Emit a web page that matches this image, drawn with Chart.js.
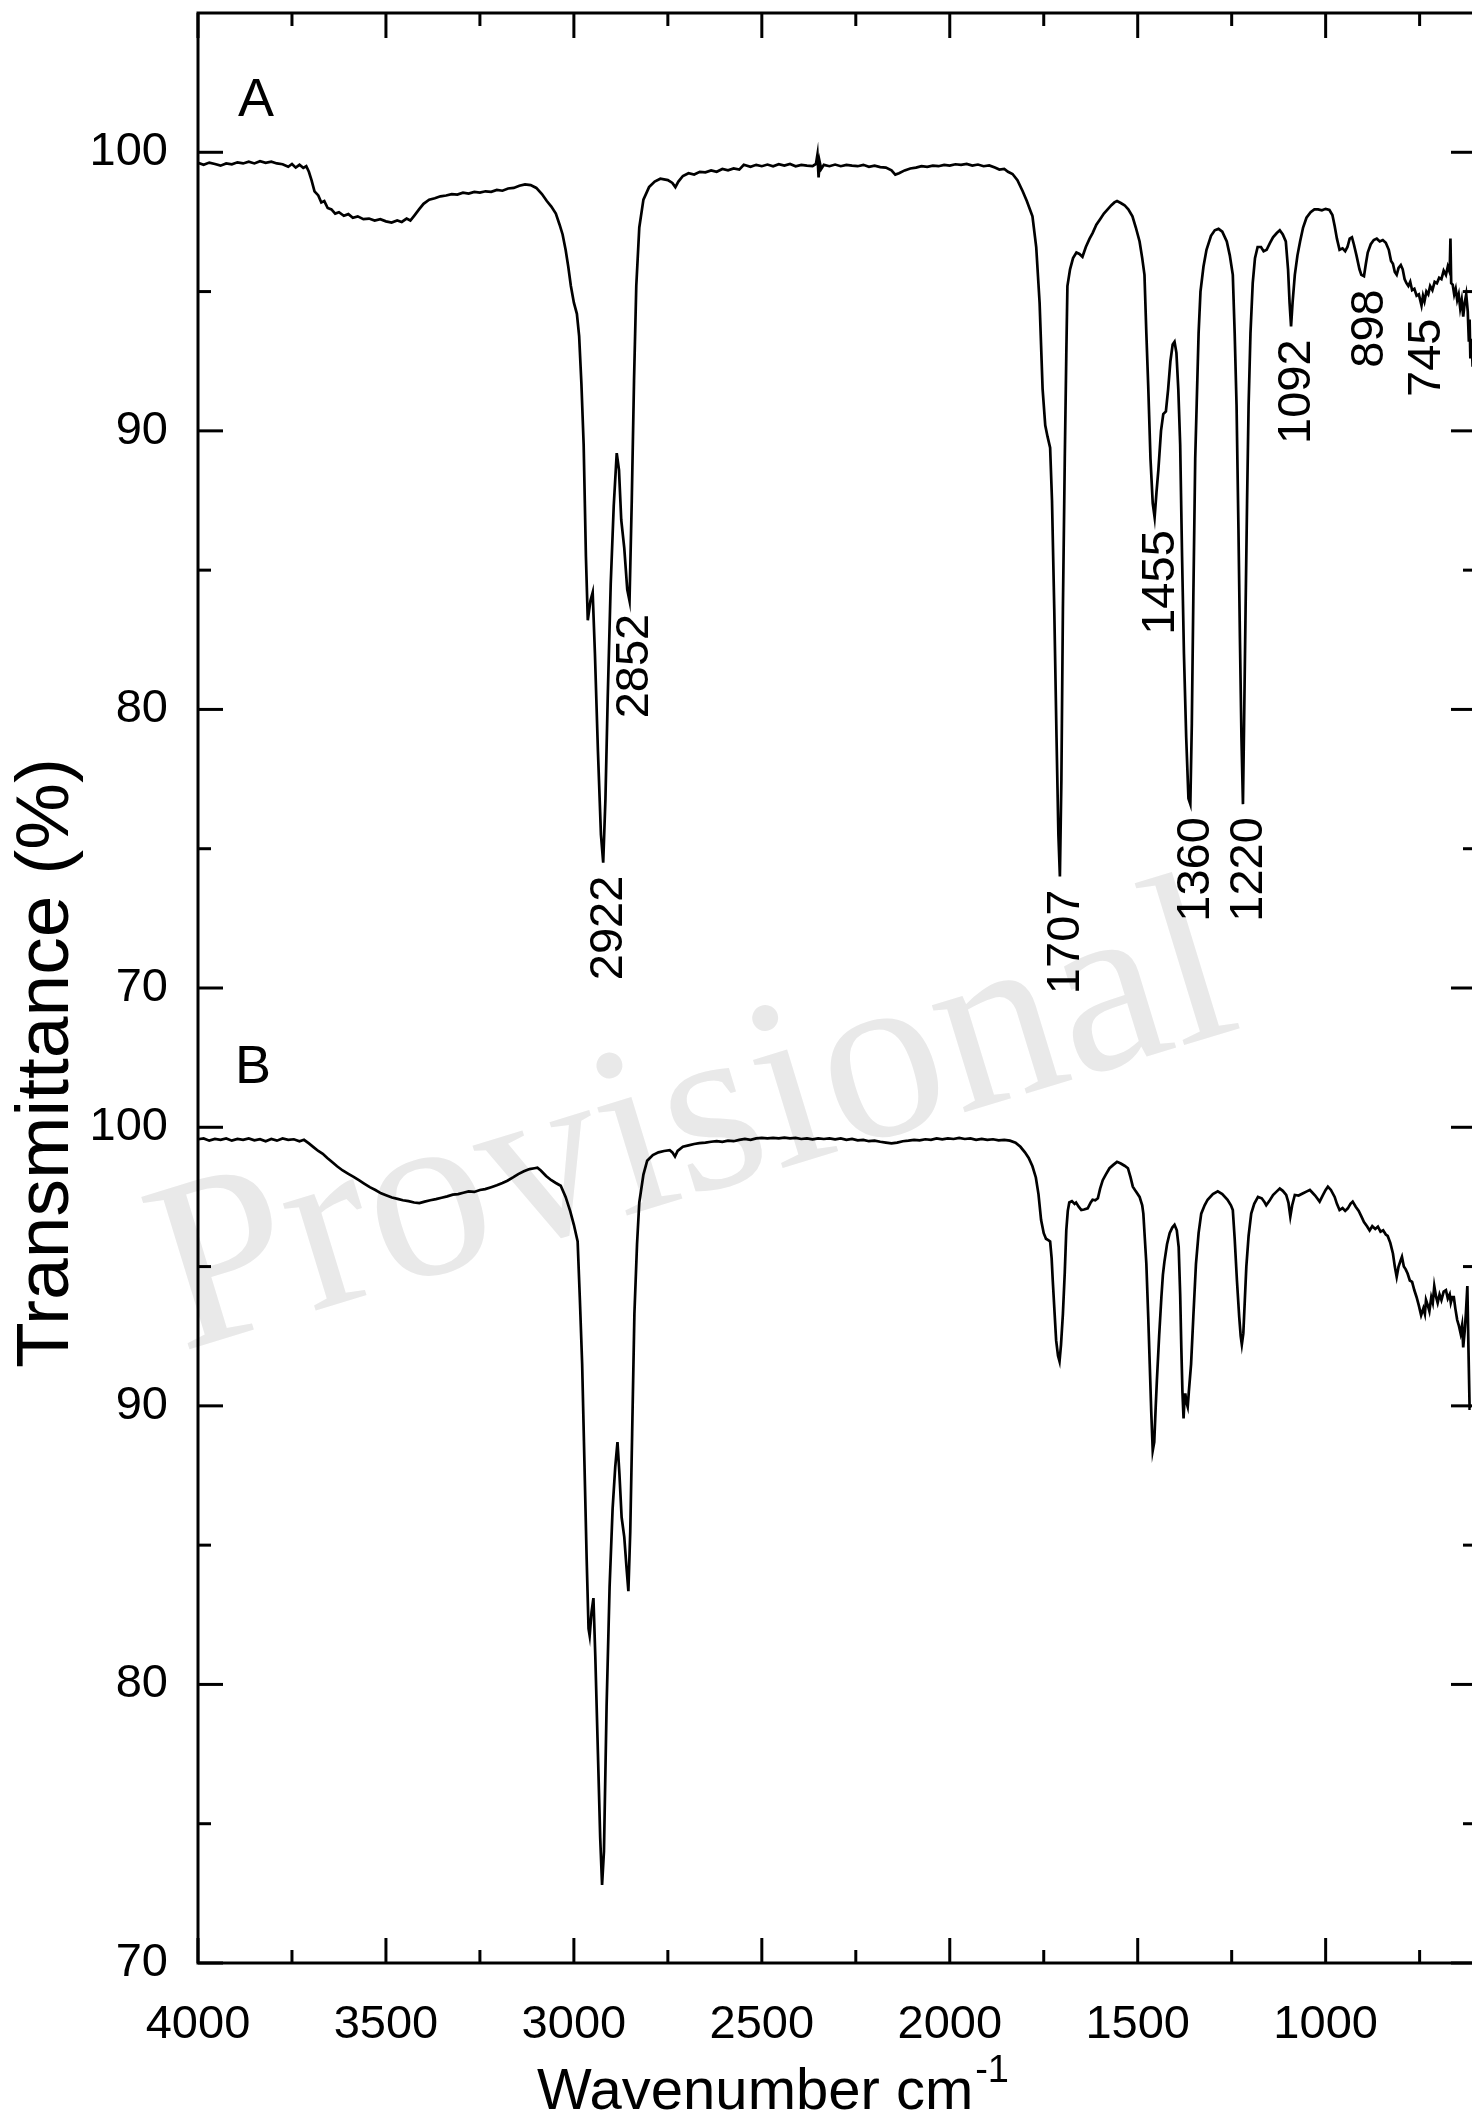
<!DOCTYPE html>
<html>
<head>
<meta charset="utf-8">
<script src="https://cdn.jsdelivr.net/npm/chart.js@4.4.1/dist/chart.umd.min.js"></script>
<style>
  html, body { margin: 0; padding: 0; background: #fff; }
  #wrap { width: 1472px; height: 2119px; overflow: hidden; position: relative; }
  canvas { display: block; }
</style>
</head>
<body>
<div id="wrap"><canvas id="c" width="1480" height="2119"></canvas></div>
<script>
// spectrum A (upper trace)
const wavenumberA = [4000,3985,3970,3955,3940,3925,3910,3895,3880,3865,3850,3835,3820,3805,3790,3775,3760,3750,3740,3730,3720,3712,3705,3698,3690,3680,3672,3664,3655,3645,3635,3625,3612,3600,3588,3575,3560,3545,3530,3515,3500,3485,3470,3458,3445,3435,3425,3412,3400,3385,3370,3355,3340,3325,3310,3295,3280,3265,3250,3235,3220,3205,3190,3175,3160,3145,3130,3115,3100,3085,3072,3060,3048,3038,3030,3022,3015,3008,3000,2992,2986,2980,2974,2968,2963,2956,2950,2944,2936,2928,2922,2916,2910,2902,2894,2886,2880,2874,2866,2858,2852,2846,2840,2834,2826,2815,2800,2785,2770,2750,2738,2730,2722,2710,2695,2680,2665,2650,2635,2620,2605,2590,2575,2560,2548,2530,2515,2500,2485,2470,2455,2440,2425,2410,2395,2380,2365,2356,2352,2349,2346,2342,2335,2320,2305,2290,2275,2260,2245,2230,2215,2200,2185,2170,2155,2145,2135,2120,2105,2090,2075,2060,2045,2030,2015,2000,1985,1970,1955,1940,1925,1910,1895,1880,1868,1855,1845,1833,1820,1806,1795,1780,1770,1761,1753,1746,1740,1733,1728,1722,1716,1711,1707,1703,1699,1694,1690,1687,1680,1672,1663,1655,1647,1638,1628,1620,1610,1600,1590,1580,1570,1562,1555,1545,1535,1525,1514,1505,1495,1488,1482,1477,1472,1466,1460,1455,1450,1445,1438,1432,1425,1419,1413,1407,1402,1397,1392,1387,1382,1377,1371,1365,1360,1356,1352,1347,1343,1338,1333,1325,1317,1305,1295,1285,1275,1263,1255,1247,1242,1237,1232,1228,1224,1220,1217,1213,1209,1205,1200,1194,1188,1181,1172,1165,1157,1148,1140,1130,1122,1114,1106,1100,1096,1092,1088,1082,1075,1068,1060,1051,1040,1030,1020,1010,1000,990,982,976,970,963,955,948,942,936,930,925,918,910,905,898,893,888,880,872,864,856,848,840,832,826,821,816,811,806,800,795,790,785,780,775,770,764,758,752,745,741,737,732,727,722,716,710,704,698,692,686,680,675,670,668,666,662,658,654,650,646,642,638,634,630,626,622,619,617,615,612,609,606];
const transA = [99.62,99.55,99.63,99.58,99.52,99.6,99.57,99.64,99.6,99.66,99.6,99.68,99.62,99.66,99.6,99.57,99.48,99.58,99.45,99.55,99.44,99.5,99.3,99.0,98.6,98.45,98.2,98.25,98.0,97.95,97.8,97.85,97.72,97.78,97.65,97.7,97.6,97.62,97.55,97.6,97.52,97.48,97.55,97.5,97.62,97.55,97.72,97.95,98.15,98.3,98.35,98.42,98.45,98.5,98.48,98.55,98.52,98.58,98.55,98.6,98.58,98.65,98.62,98.7,98.72,98.8,98.85,98.82,98.72,98.5,98.25,98.05,97.8,97.4,97.05,96.5,95.9,95.2,94.6,94.2,93.4,91.7,89.5,85.5,83.2,83.9,84.2,82.0,78.5,75.5,74.5,76.8,80.4,84.5,87.3,89.2,88.6,86.8,85.8,84.3,83.9,87.5,91.8,95.2,97.3,98.3,98.75,98.95,99.05,99.0,98.9,98.75,98.95,99.15,99.25,99.2,99.3,99.28,99.35,99.3,99.4,99.35,99.42,99.38,99.55,99.48,99.55,99.5,99.56,99.5,99.57,99.52,99.58,99.5,99.55,99.52,99.5,99.58,99.92,99.1,99.65,99.4,99.55,99.5,99.56,99.5,99.55,99.52,99.5,99.55,99.48,99.52,99.47,99.45,99.35,99.2,99.25,99.35,99.42,99.45,99.5,99.48,99.52,99.5,99.55,99.52,99.57,99.55,99.58,99.52,99.56,99.5,99.53,99.45,99.38,99.4,99.3,99.22,99.0,98.6,98.25,97.7,96.6,94.6,91.5,90.2,89.8,89.4,87.5,83.6,79.0,75.5,74.0,77.5,83.6,89.0,92.7,95.2,95.8,96.2,96.4,96.35,96.25,96.6,96.9,97.1,97.4,97.6,97.8,97.95,98.1,98.2,98.25,98.18,98.1,97.95,97.7,97.3,96.8,96.2,95.6,93.5,91.6,89.0,87.4,86.9,87.8,88.6,90.0,90.6,90.7,91.5,92.5,93.1,93.2,92.8,91.5,89.5,85.5,82.0,79.0,76.8,76.6,79.5,84.0,89.0,91.0,93.5,95.0,95.9,96.5,97.0,97.2,97.25,97.15,96.8,96.3,95.6,93.5,90.9,86.5,82.5,79.0,76.6,79.5,83.6,87.5,90.9,93.5,95.3,96.2,96.6,96.6,96.45,96.5,96.75,96.95,97.1,97.2,97.05,96.8,95.8,94.6,93.75,94.6,95.6,96.3,96.8,97.3,97.65,97.85,97.95,97.95,97.92,97.97,97.93,97.75,97.35,96.9,96.5,96.55,96.45,96.6,96.9,96.95,96.7,96.3,95.8,95.6,95.55,96.0,96.4,96.7,96.85,96.9,96.8,96.85,96.75,96.5,96.1,96.0,95.7,95.6,95.85,95.95,95.8,95.45,95.3,95.2,95.35,95.05,95.1,94.85,94.9,94.5,94.85,94.65,95.0,94.9,95.2,95.05,95.35,95.3,95.5,95.45,95.75,95.6,95.9,95.7,96.9,95.3,95.25,94.9,95.1,94.7,94.9,94.4,94.7,94.1,94.6,94.9,94.3,93.2,94.0,92.6,93.3,92.3,92.8];

// spectrum B (lower trace)
const wavenumberB = [4000,3985,3970,3955,3940,3925,3910,3895,3880,3865,3850,3835,3820,3805,3790,3775,3760,3745,3730,3718,3705,3692,3680,3668,3656,3644,3630,3615,3600,3586,3572,3558,3543,3528,3513,3498,3484,3469,3455,3440,3425,3411,3397,3382,3367,3352,3337,3322,3308,3294,3280,3265,3250,3236,3220,3205,3190,3177,3162,3148,3133,3118,3105,3097,3088,3074,3060,3048,3035,3022,3010,3000,2990,2984,2978,2972,2966,2961,2958,2953,2948,2943,2936,2930,2925,2920,2913,2905,2897,2890,2884,2879,2873,2866,2860,2855,2850,2845,2839,2832,2826,2815,2805,2790,2775,2760,2745,2738,2731,2724,2710,2695,2680,2666,2650,2635,2620,2605,2590,2575,2560,2545,2530,2515,2500,2485,2470,2455,2440,2425,2410,2395,2380,2365,2350,2335,2320,2305,2290,2275,2260,2245,2230,2215,2200,2185,2170,2155,2140,2125,2110,2095,2080,2065,2050,2035,2020,2005,1990,1975,1960,1945,1930,1915,1900,1885,1870,1855,1840,1825,1812,1800,1790,1780,1771,1764,1757,1750,1744,1738,1733,1729,1726,1721,1717,1712,1708,1704,1699,1694,1690,1686,1682,1675,1668,1664,1657,1650,1643,1633,1625,1620,1613,1606,1600,1593,1585,1575,1565,1555,1545,1535,1526,1519,1513,1505,1495,1488,1485,1481,1477,1472,1468,1464,1460,1456,1452,1449,1443,1437,1433,1429,1422,1415,1408,1402,1396,1391,1387,1384,1381,1378,1375,1373,1370,1367,1364,1358,1352,1345,1338,1331,1322,1314,1300,1287,1275,1261,1252,1247,1242,1236,1230,1226,1223,1219,1215,1211,1205,1198,1190,1180,1170,1162,1158,1150,1140,1130,1122,1114,1105,1099,1094,1089,1082,1072,1060,1050,1042,1035,1028,1016,1008,1000,994,986,976,970,963,955,948,941,934,928,920,912,905,898,890,883,876,868,861,854,847,840,835,828,821,816,811,806,801,797,792,787,782,776,770,764,758,752,746,740,736,733,728,724,719,715,711,706,702,697,692,686,680,675,670,667,663,659,655,650,646,641,637,634,630,627,623,620,617,614];
const transB = [99.57,99.6,99.52,99.58,99.55,99.6,99.52,99.58,99.55,99.6,99.53,99.57,99.5,99.58,99.52,99.6,99.55,99.57,99.5,99.55,99.42,99.28,99.15,99.05,98.9,98.76,98.6,98.45,98.33,98.22,98.1,97.98,97.85,97.75,97.63,97.55,97.48,97.43,97.38,97.35,97.3,97.28,97.33,97.38,97.42,97.47,97.52,97.58,97.6,97.65,97.7,97.68,97.75,97.78,97.85,97.92,98.0,98.08,98.2,98.32,98.42,98.5,98.53,98.55,98.45,98.25,98.1,98.0,97.9,97.5,97.0,96.5,95.9,93.8,91.5,88.0,84.5,82.0,81.75,82.6,83.1,81.0,77.5,74.5,72.8,74.0,79.2,83.5,86.3,87.8,88.7,87.6,86.0,85.3,84.2,83.35,85.5,89.0,93.3,95.8,97.3,98.3,98.8,99.0,99.1,99.15,99.18,99.1,98.95,99.15,99.3,99.35,99.4,99.43,99.45,99.48,99.5,99.48,99.52,99.5,99.55,99.58,99.55,99.6,99.62,99.6,99.62,99.6,99.63,99.6,99.62,99.58,99.6,99.57,99.6,99.58,99.6,99.57,99.6,99.55,99.58,99.53,99.55,99.5,99.52,99.48,99.45,99.42,99.45,99.5,99.52,99.55,99.53,99.57,99.55,99.6,99.57,99.6,99.58,99.62,99.58,99.6,99.55,99.58,99.55,99.57,99.53,99.55,99.52,99.45,99.3,99.1,98.9,98.6,98.2,97.6,96.67,96.2,96.0,95.95,95.9,95.3,94.5,93.3,92.35,91.8,91.6,92.2,93.3,94.8,96.3,97.0,97.3,97.35,97.25,97.3,97.15,97.03,97.05,97.09,97.3,97.4,97.38,97.45,97.8,98.1,98.3,98.53,98.65,98.76,98.7,98.62,98.53,98.2,97.87,97.7,97.5,97.2,96.9,96.0,95.1,93.2,91.5,89.8,88.4,88.7,90.0,90.9,92.5,93.9,94.7,95.17,95.8,96.2,96.4,96.5,96.3,95.7,94.0,92.1,90.5,89.55,90.4,90.4,90.1,89.96,90.5,91.5,93.2,95.1,96.2,96.9,97.2,97.4,97.6,97.7,97.6,97.4,97.2,97.03,96.0,94.5,93.2,92.5,92.2,92.6,93.8,95.0,96.1,96.9,97.25,97.5,97.45,97.3,97.2,97.35,97.57,97.7,97.8,97.72,97.57,97.3,96.8,97.2,97.57,97.55,97.63,97.7,97.75,97.65,97.55,97.33,97.55,97.75,97.87,97.75,97.5,97.25,97.03,97.1,97.0,97.09,97.25,97.33,97.15,97.0,96.8,96.6,96.45,96.3,96.45,96.35,96.43,96.25,96.3,96.15,96.1,95.85,95.47,95.0,94.63,95.0,95.2,95.35,95.0,94.9,94.75,94.5,94.45,94.15,93.9,93.6,93.25,93.5,93.3,93.8,93.6,93.4,93.9,93.7,94.3,93.9,93.7,94.0,93.8,94.1,94.15,93.85,94.0,93.7,93.9,93.9,93.5,93.08,92.9,92.6,92.9,92.1,92.7,93.3,94.3,92.0,89.9,89.9];

// band positions labelled on trace A
const peakLabels = [2922, 2852, 1707, 1455, 1360, 1220, 1092, 898, 745];

// x ticks: majors every 500, minors every 250
const xTicks = [4000,3750,3500,3250,3000,2750,2500,2250,2000,1750,1500,1250,1000,750];

const FONT = "'Liberation Sans', Arial, sans-serif";

function toPoints(xs, ys) {
    return xs.map((x, i) => ({ x: x, y: ys[i] }));
}

// draws the closed frame and inward tick marks
const frameTicks = {
    id: 'frameTicks',
    afterDatasetsDraw(chart) {
        const ctx = chart.ctx;
        const a = chart.chartArea;
        const line = (x1, y1, x2, y2) => { ctx.beginPath(); ctx.moveTo(x1, y1); ctx.lineTo(x2, y2); ctx.stroke(); };
        ctx.save();
        ctx.strokeStyle = '#000';
        ctx.lineWidth = 3;
        ctx.strokeRect(a.left, a.top, a.right - a.left, a.bottom - a.top);
        for (const t of chart.scales.x.ticks) {
            const px = chart.scales.x.getPixelForValue(t.value);
            const len = t.value % 500 === 0 ? 25 : 13;
            line(px, a.bottom, px, a.bottom - len);
            line(px, a.top, px, a.top + len);
        }
        for (const id of ['yA', 'yB']) {
            const s = chart.scales[id];
            for (const t of s.ticks) {
                if (t.value >= 105) continue;
                const py = s.getPixelForValue(t.value);
                const len = t.value % 10 === 0 ? 25 : 13;
                line(a.left, py, a.left + len, py);
                line(a.right, py, a.right - len, py);
            }
        }
        ctx.restore();
    }
};

// faint diagonal watermark behind the traces
const watermark = {
    id: 'watermark',
    beforeDatasetsDraw(chart) {
        const ctx = chart.ctx;
        ctx.save();
        ctx.translate(694, 1128);
        ctx.rotate(-17 * Math.PI / 180);
        ctx.font = "244px 'Liberation Serif', 'Times New Roman', serif";
        ctx.fillStyle = '#e9e9e9';
        ctx.textAlign = 'center';
        ctx.textBaseline = 'middle';
        ctx.fillText('Provisional', 0, 0);
        ctx.restore();
    }
};

// peak numbers, panel letters and axis titles
const annotations = {
    id: 'annotations',
    afterDraw(chart) {
        const ctx = chart.ctx;
        const x = chart.scales.x;
        const yA = chart.scales.yA;
        ctx.save();
        ctx.fillStyle = '#000';

        ctx.font = '47px ' + FONT;
        for (const w of peakLabels) {
            // lowest point of trace A near the labelled band
            let tMin = Infinity;
            wavenumberA.forEach((wn, i) => { if (Math.abs(wn - w) <= 6) tMin = Math.min(tMin, transA[i]); });
            const px = x.getPixelForValue(w) + 6;
            const py = yA.getPixelForValue(tMin) + 13;
            ctx.save();
            ctx.translate(px, py);
            ctx.rotate(-Math.PI / 2);
            ctx.textAlign = 'right';
            ctx.textBaseline = 'middle';
            ctx.fillText(String(w), 0, 0);
            ctx.restore();
        }

        ctx.font = '54px ' + FONT;
        ctx.textAlign = 'left';
        ctx.textBaseline = 'alphabetic';
        ctx.fillText('A', 238, 116);
        ctx.fillText('B', 235, 1083);

        // y title
        ctx.save();
        ctx.translate(68, 1063);
        ctx.rotate(-Math.PI / 2);
        ctx.font = '75px ' + FONT;
        ctx.textAlign = 'center';
        ctx.textBaseline = 'alphabetic';
        ctx.fillText('Transmittance (%)', 0, 0);
        ctx.restore();

        // x title with superscript
        ctx.font = '58px ' + FONT;
        const main = 'Wavenumber cm';
        const mw = ctx.measureText(main).width;
        ctx.font = '38px ' + FONT;
        const sw = ctx.measureText('-1').width;
        const x0 = 772 - (mw + sw) / 2;
        ctx.font = '58px ' + FONT;
        ctx.fillText(main, x0, 2109);
        ctx.font = '38px ' + FONT;
        ctx.fillText('-1', x0 + mw + 2, 2082);
        ctx.restore();
    }
};

const yAxis = (weight) => ({
    type: 'linear',
    position: 'left',
    stack: 'panels',
    stackWeight: 1,
    weight: weight,
    min: 70,
    max: 105,
    grid: { display: false, drawTicks: false },
    border: { display: false },
    ticks: {
        stepSize: 5,
        autoSkip: false,
        padding: 30,
        color: '#000',
        font: { family: FONT, size: 47 },
        callback: (v) => (v % 10 === 0 ? String(v) : '')
    },
    afterFit: (s) => {
        s.width = 198;
        s.paddingTop = 0;
        s.paddingBottom = 0;
    }
});

new Chart(document.getElementById('c'), {
    type: 'line',
    data: {
        datasets: [
            { label: 'A', data: toPoints(wavenumberA, transA), yAxisID: 'yA', borderColor: '#000', borderWidth: 2.7, pointRadius: 0, tension: 0 },
            { label: 'B', data: toPoints(wavenumberB, transB), yAxisID: 'yB', borderColor: '#000', borderWidth: 2.7, pointRadius: 0, tension: 0 }
        ]
    },
    options: {
        responsive: false,
        animation: false,
        devicePixelRatio: 1,
        layout: { padding: { top: 13, right: 4, left: 0, bottom: 0 } },
        plugins: { legend: { display: false }, tooltip: { enabled: false } },
        scales: {
            x: {
                type: 'linear',
                position: 'bottom',
                reverse: true,
                min: 600,
                max: 4000,
                grid: { display: false, drawTicks: false },
                border: { display: false },
                afterBuildTicks: (s) => { s.ticks = xTicks.map(v => ({ value: v })); },
                ticks: {
                    autoSkip: false,
                    maxRotation: 0,
                    padding: 34,
                    color: '#000',
                    font: { family: FONT, size: 47 },
                    callback: (v) => (v % 500 === 0 ? String(v) : '')
                },
                afterFit: (s) => {
                    s.height = 156;
                    s.paddingLeft = 0;
                    s.paddingRight = 0;
                }
            },
            yA: yAxis(2),
            yB: yAxis(1)
        }
    },
    plugins: [watermark, frameTicks, annotations]
});
</script>
</body>
</html>
